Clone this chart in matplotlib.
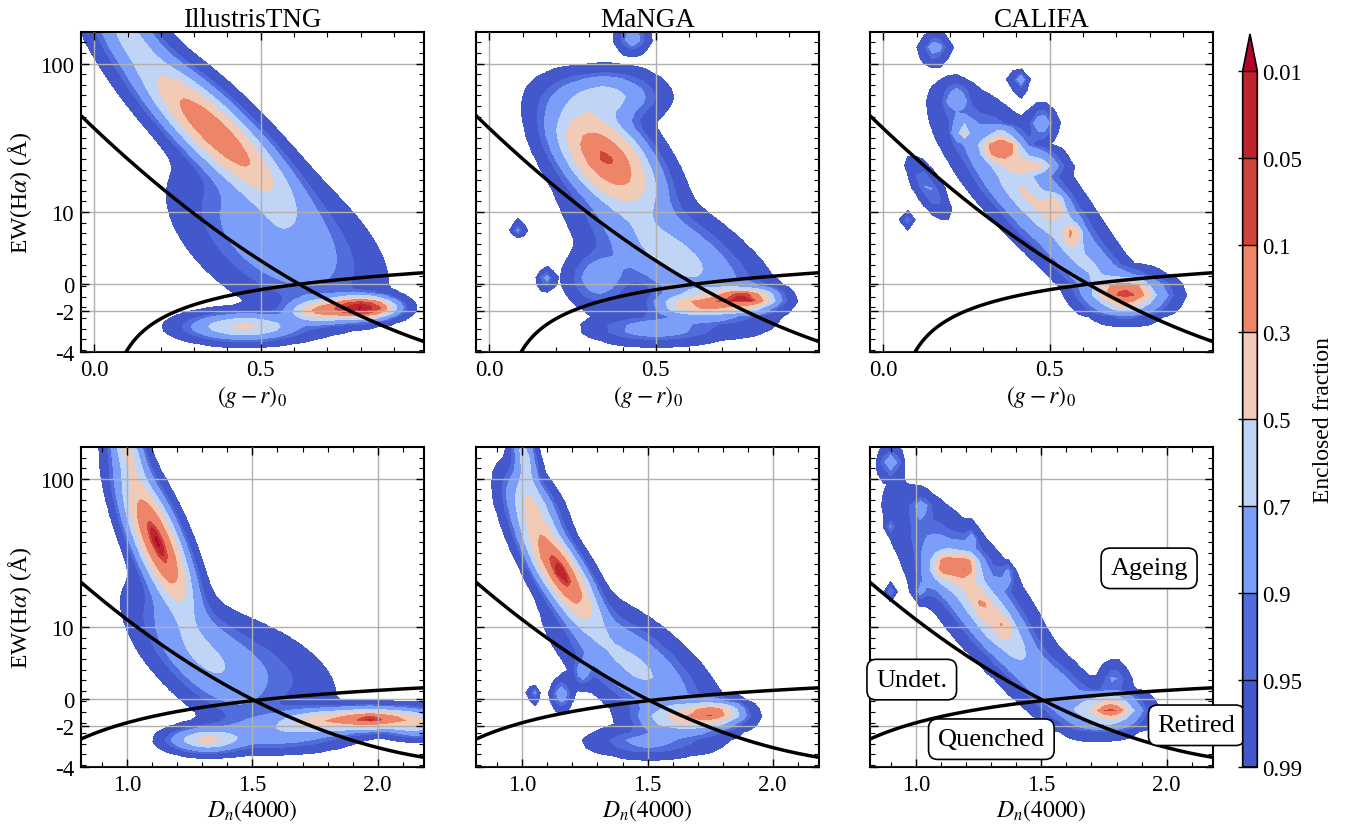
import numpy as np
import matplotlib
matplotlib.use("Agg")
import matplotlib.pyplot as plt
from matplotlib.colors import Normalize
from matplotlib.ticker import FixedLocator, MultipleLocator

plt.rcParams["font.family"] = ["Liberation Serif", "DejaVu Serif"]
plt.rcParams["mathtext.fontset"] = "stix"

# enclosed-fraction levels shown in the colour bar
levels = [0.01, 0.05, 0.1, 0.3, 0.5, 0.7, 0.9, 0.95, 0.99]
level_labels = ["0.01", "0.05", "0.1", "0.3", "0.5", "0.7", "0.9", "0.95", "0.99"]
titles = ["IllustrisTNG", "MaNGA", "CALIFA"]
ew_ticks = [100, 10, 0, -2, -4]
ew_tick_labels = ["100", "10", "0", "-2", "-4"]

# density components:
# (x centre, EW centre, x width at fixed EW, width in log(EW+7), ridge slope dx/dlog, weight)
tng_gr = [(0.36, 39, 0.065, 0.22, -0.5, 0.42),
          (0.10, 150, 0.05, 0.12, -0.3, 0.04),
          (0.55, 5.0, 0.12, 0.20, -0.35, 0.14),
          (0.80, -1.8, 0.05, 0.03, 0.0, 0.12),
          (0.68, -2.0, 0.05, 0.035, 0.0, 0.04),
          (0.45, -2.9, 0.09, 0.04, 0.0, 0.05)]
manga_gr = [(0.35, 26, 0.07, 0.15, -0.3, 0.35),
            (0.35, 64, 0.08, 0.07, 0.0, 0.05),
            (0.55, 3.0, 0.10, 0.17, -0.5, 0.15),
            (0.76, -1.2, 0.05, 0.03, 0.0, 0.08),
            (0.64, -1.6, 0.07, 0.035, 0.0, 0.06),
            (0.50, -3.0, 0.10, 0.04, 0.0, 0.02),
            (0.33, 0.5, 0.05, 0.08, 0.0, 0.02),
            (0.43, 140, 0.025, 0.04, 0.0, 0.005),
            (0.087, 6.7, 0.01, 0.02, 0.0, 0.0008),
            (0.17, 0.4, 0.012, 0.025, 0.0, 0.0015)]
califa_gr = [(0.355, 31, 0.03, 0.04, 0.0, 0.08),
             (0.45, 24, 0.04, 0.03, 0.0, 0.03),
             (0.24, 40, 0.015, 0.03, 0.0, 0.01),
             (0.45, 12, 0.06, 0.20, -0.45, 0.20),
             (0.52, 11.4, 0.02, 0.04, 0.0, 0.015),
             (0.566, 6.0, 0.015, 0.04, 0.0, 0.02),
             (0.73, -0.66, 0.03, 0.03, 0.0, 0.06),
             (0.73, -0.9, 0.06, 0.05, 0.0, 0.12),
             (0.62, 1.5, 0.05, 0.10, -0.4, 0.05),
             (0.38, 25, 0.07, 0.20, -0.4, 0.06),
             (0.155, 123, 0.02, 0.035, 0.0, 0.006),
             (0.41, 79, 0.012, 0.025, 0.0, 0.003),
             (0.22, 62, 0.02, 0.04, 0.0, 0.008),
             (0.476, 44, 0.02, 0.04, 0.0, 0.008),
             (0.135, 16, 0.02, 0.08, -0.3, 0.008),
             (0.07, 8, 0.01, 0.02, 0.0, 0.001)]
tng_dn = [(1.12, 42, 0.05, 0.20, -0.28, 0.40),
          (1.00, 150, 0.035, 0.12, -0.2, 0.05),
          (1.30, 5.0, 0.10, 0.18, -0.5, 0.12),
          (1.50, 3.5, 0.15, 0.15, -0.6, 0.05),
          (1.98, -1.55, 0.09, 0.03, 0.0, 0.10),
          (1.78, -1.7, 0.10, 0.035, 0.0, 0.06),
          (2.15, -1.8, 0.06, 0.04, 0.0, 0.03),
          (1.32, -2.8, 0.08, 0.035, 0.0, 0.04),
          (1.60, -2.4, 0.15, 0.05, 0.0, 0.04)]
manga_dn = [(1.15, 27, 0.05, 0.16, -0.4, 0.35),
            (1.01, 130, 0.025, 0.12, -0.1, 0.03),
            (1.04, 70, 0.05, 0.10, -0.3, 0.06),
            (1.45, 3.5, 0.11, 0.17, -0.6, 0.15),
            (1.76, -1.1, 0.06, 0.03, 0.0, 0.06),
            (1.66, -1.5, 0.10, 0.04, 0.0, 0.07),
            (1.50, -2.9, 0.12, 0.04, 0.0, 0.02),
            (1.157, 0.4, 0.02, 0.04, 0.0, 0.005),
            (1.24, 2.8, 0.02, 0.04, 0.0, 0.004),
            (1.046, 0.4, 0.01, 0.02, 0.0, 0.001)]
califa_dn = [(0.898, 124, 0.02, 0.035, 0.0, 0.008),
             (1.117, 29.7, 0.028, 0.035, 0.0, 0.05),
             (1.197, 29.7, 0.028, 0.035, 0.0, 0.05),
             (1.15, 28, 0.06, 0.06, 0.0, 0.08),
             (1.30, 13, 0.045, 0.13, -0.5, 0.10),
             (1.28, 13, 0.06, 0.18, -0.5, 0.15),
             (1.22, 20, 0.09, 0.25, -0.5, 0.15),
             (1.264, 16, 0.015, 0.03, 0.0, 0.01),
             (1.35, 10.4, 0.015, 0.03, 0.0, 0.01),
             (1.78, -0.85, 0.04, 0.03, 0.0, 0.08),
             (1.75, -1.0, 0.08, 0.05, 0.0, 0.10),
             (1.55, 1.0, 0.07, 0.10, -0.5, 0.06),
             (1.79, 2.0, 0.03, 0.04, 0.0, 0.006),
             (0.90, 53, 0.01, 0.02, 0.0, 0.001),
             (1.02, 20, 0.015, 0.03, 0.0, 0.003),
             (0.90, 19, 0.01, 0.02, 0.0, 0.001),
             (1.22, 44, 0.015, 0.03, 0.0, 0.003),
             (1.36, 25, 0.015, 0.03, 0.0, 0.004),
             (1.02, 67, 0.02, 0.03, 0.0, 0.005)]

# demarcation lines, points
gr_quench_x = [-0.04, 0.3, 0.5, 0.6, 0.8, 0.99]
gr_quench_ew = [48, 10.7, 2.2, 0.0, -2.44, -3.5]
gr_retired_x = [0.092, 0.2, 0.3, 0.5, 0.6, 0.8, 0.99]
gr_retired_ew = [-4.07, -2.53, -1.5, -0.53, -0.15, 0.53, 1.04]
dn_quench_x = [0.815, 1.0, 1.25, 1.5, 1.75, 2.0, 2.185]
dn_quench_ew = [22.3, 11.7, 4.17, -0.18, -2.19, -3.16, -3.6]
dn_retired_x = [0.815, 1.0, 1.5, 2.0, 2.185]
dn_retired_ew = [-2.77, -1.78, -0.18, 0.73, 1.04]


def ew2t(ew):
    return np.log10(np.asarray(ew, dtype=float) + 7.0)


def enclosed_fraction(comps, xg, tg):
    X, T = np.meshgrid(xg, tg)
    dens = np.zeros_like(X)
    for x0, ew0, sxc, st, slope, w in comps:
        t0 = ew2t(ew0)
        xm = x0 + slope * (T - t0)
        dens += w / (sxc * st) * np.exp(-0.5 * ((X - xm) / sxc) ** 2
                                        - 0.5 * ((T - t0) / st) ** 2)
    flat = dens.ravel()
    order = np.argsort(flat)[::-1]
    cum = np.cumsum(flat[order])
    cum /= cum[-1]
    frac = np.empty_like(flat)
    frac[order] = cum
    return X, T, frac.reshape(dens.shape)


fig = plt.figure(figsize=(13.54, 8.37), dpi=100)
lefts = [0.0598, 0.3516, 0.6425]
bottoms = [0.5783, 0.0824]
w_ax, h_ax = 0.2533, 0.3823

panels = [[tng_gr, manga_gr, califa_gr], [tng_dn, manga_dn, califa_dn]]
grid_n = [110, 60, 44]
xlims = [(-0.04, 0.99), (0.815, 2.185)]
ylim = (np.log10(3.0), 2.2)
cmap = plt.get_cmap("coolwarm_r")
norm = Normalize(0, 1)
minor_step = (ew2t(100) - ew2t(10)) / 14
ymin_ticks = np.concatenate([ew2t(100) - minor_step * np.arange(0, 40),
                             ew2t(100) + minor_step * np.arange(1, 6)])

cf = None
for r in range(2):
    for c in range(3):
        ax = fig.add_axes([lefts[c], bottoms[r], w_ax, h_ax])
        x_lo, x_hi = xlims[r]
        n = grid_n[c]
        xg = np.linspace(x_lo - 0.3, x_hi + 0.3, int(n * 1.55))
        tg = np.linspace(0.2, 2.7, n)
        X, T, F = enclosed_fraction(panels[r][c], xg, tg)
        cf = ax.contourf(X, T, F, levels=levels, cmap=cmap, norm=norm,
                         extend="min", zorder=1)

        if r == 0:
            qx = np.linspace(-0.05, 1.0, 200)
            pq = np.polyfit(gr_quench_x, ew2t(gr_quench_ew), 2)
            rx = np.linspace(0.085, 1.0, 200)
            pr = np.polyfit(np.log10(gr_retired_x), gr_retired_ew, 2)
        else:
            qx = np.linspace(0.8, 2.2, 200)
            pq = np.polyfit(dn_quench_x, ew2t(dn_quench_ew), 2)
            rx = np.linspace(0.8, 2.2, 200)
            pr = np.polyfit(np.log10(dn_retired_x), dn_retired_ew, 2)
        ax.plot(qx, np.polyval(pq, qx), color="black", lw=2.5, zorder=4)
        ax.plot(rx, ew2t(np.polyval(pr, np.log10(rx))), color="black", lw=2.5, zorder=4)

        ax.set_xlim(x_lo, x_hi)
        ax.set_ylim(*ylim)
        ax.yaxis.set_major_locator(FixedLocator(ew2t(ew_ticks)))
        ax.yaxis.set_minor_locator(FixedLocator(ymin_ticks))
        if r == 0:
            ax.xaxis.set_major_locator(FixedLocator([0.0, 0.5]))
            ax.set_xticklabels(["0.0", "0.5"])
            ax.set_xlabel(r"$(g-r)_0$", fontsize=17, labelpad=2)
            ax.set_title(titles[c], fontsize=19.5, pad=3)
        else:
            ax.xaxis.set_major_locator(FixedLocator([1.0, 1.5, 2.0]))
            ax.set_xticklabels(["1.0", "1.5", "2.0"])
            ax.set_xlabel(r"$D_n(4000)$", fontsize=17, labelpad=2)
        ax.xaxis.set_minor_locator(MultipleLocator(0.1))
        if c == 0:
            ax.set_yticklabels(ew_tick_labels)
            ax.set_ylabel(r"EW(H$\alpha$) (Å)", fontsize=17, labelpad=4)
        else:
            ax.set_yticklabels([])
        ax.tick_params(which="both", direction="in", top=True, right=True,
                       labelsize=16.5)
        ax.tick_params(which="major", length=6, width=1, pad=5)
        ax.tick_params(which="minor", length=3.5, width=0.8)
        ax.grid(True, color="#b0b0b0", lw=1, zorder=2)
        ax.set_axisbelow(False)
        for s in ax.spines.values():
            s.set_linewidth(1.5)

        if r == 1 and c == 2:
            box = dict(boxstyle="round,pad=0.35", fc="white", ec="black", lw=1.2)
            ax.text(1.93, 1.547, "Ageing", fontsize=19, ha="center", va="center",
                    bbox=box, zorder=6)
            ax.text(0.982, 0.948, "Undet.", fontsize=19, ha="center", va="center",
                    bbox=box, zorder=6)
            ax.text(1.30, 0.627, "Quenched", fontsize=19, ha="center", va="center",
                    bbox=box, zorder=6)
            ax.text(2.12, 0.702, "Retired", fontsize=19, ha="center", va="center",
                    bbox=box, zorder=6, clip_on=False)

cax = fig.add_axes([1242.7 / 1354, 69 / 837, 14.6 / 1354, 733 / 837])
cb = fig.colorbar(cf, cax=cax, ticks=levels, extendfrac=0.053)
cb.ax.invert_yaxis()
cb.ax.set_yticklabels(level_labels)
cb.ax.tick_params(direction="in", length=14, width=1, labelsize=16.5)
cb.set_label("Enclosed fraction", fontsize=17, labelpad=8)
cb.outline.set_linewidth(1.2)

fig.savefig("out.png", dpi=100)
